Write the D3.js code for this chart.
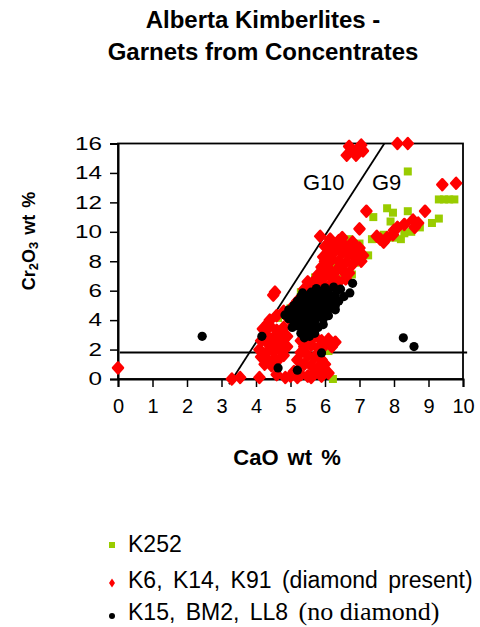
<!DOCTYPE html>
<html lang="en">
  <head>
    <meta charset="UTF-8" />
    <title>Alberta Kimberlites</title>
    <style>
      body { margin: 0; background: #fff; }
      text { font-family: Arial, "Liberation Sans", sans-serif; }
    </style>
  </head>
  <body>
    <svg id="chart" width="480" height="627"></svg>
    <script src="https://cdn.jsdelivr.net/npm/d3@7/dist/d3.min.js"></script>
    <script>
      // CaO (x), Cr2O3 (y) in wt %
      const k252 = [
        [8.4, 14.1], [9.3, 12.2], [9.45, 12.2], [9.6, 12.2], [9.75, 12.2],
        [7.8, 11.6], [7.97, 11.3], [8.4, 11.4], [7.4, 11.0], [7.9, 10.7], [9.3, 10.9], [9.1, 10.6],
        [7.36, 9.5], [8.2, 9.5], [8.3, 9.9], [8.75, 10.3], [7.0, 9.2], [7.25, 8.4], [6.7, 9.5],
        [8.0, 9.6], [7.7, 9.8], [8.5, 10.0],
        [6.67, 9.3], [6.93, 9.1], [6.06, 8.0], [6.87, 7.9], [5.71, 6.9], [6.78, 7.1], [6.5, 8.5],
        [6.3, 7.6], [6.1, 8.6], [6.95, 8.6], [6.4, 6.8], [5.5, 6.4], [5.3, 5.9], [6.6, 8.9], [6.14, 7.9],
        [4.64, 4.15], [5.57, 1.43], [5.5, 1.5], [6.23, 0.0], [5.0, 4.8], [4.9, 4.4], [6.1, 1.9]
      ];

      const diamondPresent = [
        [6.7, 15.8], [6.95, 15.6], [6.63, 15.2], [6.9, 15.2], [7.1, 15.5], [6.8, 15.5], [7.05, 15.9],
        [8.1, 16.0], [8.4, 16.0],
        [9.4, 13.2], [9.8, 13.3], [7.2, 11.4], [8.9, 11.4], [7.0, 10.2], [5.86, 9.7],
        [8.55, 10.8], [8.6, 10.3], [8.1, 10.3], [7.97, 9.8], [7.6, 9.5], [7.5, 9.7], [7.7, 9.3],
        [8.3, 10.5], [8.0, 10.1], [8.7, 10.6], [7.8, 9.6],
        [6.0, 9.0], [6.2, 9.2], [6.4, 9.4], [6.6, 9.0], [6.8, 9.3], [7.0, 8.9], [6.1, 8.5], [6.3, 8.7],
        [6.5, 8.6], [6.7, 8.5], [6.9, 8.2], [7.1, 8.4], [6.0, 8.0], [6.2, 8.1], [6.4, 8.0], [6.6, 7.9],
        [6.8, 7.8], [5.9, 7.6], [6.1, 7.5], [6.3, 7.3], [6.5, 7.4], [6.7, 7.2], [5.8, 7.1], [6.0, 7.0],
        [6.2, 6.9], [6.4, 6.6], [6.6, 6.8], [5.7, 6.7], [5.9, 6.5], [6.1, 6.3], [6.3, 8.9], [6.5, 9.6],
        [6.15, 9.5], [6.85, 8.7], [7.05, 8.0], [6.45, 7.7], [5.95, 8.3], [6.25, 6.4],
        [5.2, 5.3], [5.35, 5.6], [5.5, 5.9], [5.6, 6.2], [5.75, 6.5], [5.4, 6.1], [5.3, 5.0], [5.6, 5.5],
        [5.85, 6.0], [5.5, 6.6], [5.1, 5.0], [4.5, 5.7], [4.55, 5.9],
        [4.2, 3.4], [4.4, 3.6], [4.6, 3.3], [4.8, 3.5], [4.3, 3.0], [4.5, 2.8], [4.7, 3.0], [4.9, 2.9],
        [4.15, 2.6], [4.35, 2.4], [4.55, 2.3], [4.75, 2.5], [4.1, 2.0], [4.3, 1.8], [4.5, 1.9], [4.7, 2.0],
        [4.9, 2.2], [4.15, 1.5], [4.35, 1.3], [4.55, 1.4], [4.25, 1.0], [4.45, 0.9], [4.6, 1.2], [4.8, 1.6],
        [4.4, 4.0], [4.6, 4.3], [4.8, 4.6], [4.95, 4.1], [4.35, 3.8],
        [5.3, 2.6], [5.5, 2.8], [5.7, 2.9], [5.9, 2.6], [6.1, 2.7], [6.3, 2.5], [5.4, 2.2], [5.6, 2.3],
        [5.8, 2.1], [6.0, 2.3], [6.2, 2.2], [5.3, 1.8], [5.5, 1.6], [5.7, 1.5], [5.9, 1.3], [5.2, 1.3],
        [5.4, 1.0], [5.6, 0.9], [5.8, 0.8], [6.0, 1.0], [5.1, 0.5], [5.3, 0.3], [5.5, 0.2], [5.7, 0.4],
        [5.9, 0.2], [6.1, 0.4], [5.2, 0.1], [5.6, 0.1], [6.0, 0.6], [5.0, 0.2],
        [3.3, 0.0], [3.54, 0.1], [4.1, 0.1], [0.0, 0.75], [4.6, 0.3], [4.85, 0.1]
      ];

      const noDiamond = [
        [2.44, 2.9], [4.17, 2.9], [4.84, 4.35], [8.27, 2.8], [8.58, 2.2], [4.64, 0.75], [5.2, 0.6],
        [5.9, 1.77], [6.8, 6.5], [6.72, 5.85],
        [5.4, 2.8], [5.55, 2.9], [5.3, 3.1], [5.5, 3.2], [5.7, 3.1],
        [5.05, 3.5], [5.2, 3.6], [5.4, 3.5], [5.6, 3.6], [5.8, 3.5], [5.95, 3.7], [5.1, 3.8], [5.3, 3.9],
        [5.5, 3.85], [5.7, 3.9],
        [4.95, 4.1], [5.15, 4.2], [5.35, 4.1], [5.55, 4.2], [5.75, 4.15], [5.95, 4.1], [6.1, 4.3],
        [5.0, 4.4], [5.25, 4.45], [5.45, 4.4], [5.65, 4.45], [5.85, 4.4], [6.05, 4.5],
        [4.95, 4.7], [5.15, 4.75], [5.35, 4.7], [5.55, 4.8], [5.75, 4.7], [5.95, 4.75], [6.15, 4.8],
        [6.3, 4.7], [5.1, 5.0], [5.3, 5.05], [5.5, 5.0], [5.7, 5.1], [5.9, 5.0], [6.1, 5.1], [6.3, 5.0],
        [5.2, 5.3], [5.4, 5.35], [5.6, 5.3], [5.8, 5.4], [6.0, 5.3], [6.2, 5.4], [6.4, 5.3],
        [5.3, 5.6], [5.5, 5.65], [5.7, 5.6], [5.9, 5.7], [6.1, 5.6], [6.3, 5.65], [6.55, 5.6],
        [5.35, 5.85], [5.6, 5.9], [5.85, 5.95], [6.1, 5.9], [6.35, 6.0], [5.75, 6.15], [6.0, 6.2],
        [6.25, 6.25], [6.45, 6.1]
      ];

      // G10 / G9 divide and the 1.8 wt % Cr2O3 line
      const g10Line = [[3.22, -0.35], [7.72, 16]];
      const crLine = [[0.05, 1.8], [10.12, 1.8]];

      const xTicks = [0, 1, 2, 3, 4, 5, 6, 7, 8, 9, 10];
      const yTicks = [0, 2, 4, 6, 8, 10, 12, 14, 16];

      const svg = d3.select("#chart");
      const x = d3.scaleLinear().domain([0, 10]).range([118, 463]);
      const y = d3.scaleLinear().domain([0, 16]).range([379, 143.5]);

      // title
      svg.append("text").attr("x", 263).attr("y", 28).attr("text-anchor", "middle")
        .attr("font-size", 24).attr("font-weight", "bold")
        .text("Alberta Kimberlites -");
      svg.append("text").attr("x", 263).attr("y", 60).attr("text-anchor", "middle")
        .attr("font-size", 24).attr("font-weight", "bold")
        .text("Garnets from Concentrates");

      // plot box
      svg.append("rect").attr("x", x(0)).attr("y", y(16))
        .attr("width", x(10) - x(0)).attr("height", y(0) - y(16))
        .attr("fill", "none").attr("stroke", "#000").attr("stroke-width", 1.8);

      const xAxis = svg.append("g").attr("transform", `translate(0,${y(0)})`)
        .call(d3.axisBottom(x).tickValues(xTicks).tickSize(8).tickPadding(12));
      xAxis.selectAll("text").attr("font-size", 20).attr("font-family", null);

      const yAxis = svg.append("g").attr("transform", `translate(${x(0)},0)`)
        .call(d3.axisLeft(y).tickValues(yTicks).tickSize(8).tickPadding(8));
      yAxis.selectAll("text").attr("font-size", 18).attr("font-family", null)
        .attr("textLength", (d) => String(d).length * 13.5)
        .attr("lengthAdjust", "spacingAndGlyphs");
      svg.selectAll(".domain").attr("stroke-width", 2);
      svg.selectAll(".tick line").attr("stroke-width", 1.5);

      const line = d3.line().x((d) => x(d[0])).y((d) => y(d[1]));
      svg.append("path").datum(crLine).attr("d", line)
        .attr("stroke", "#000").attr("stroke-width", 1.8).attr("fill", "none");
      svg.append("path").datum(g10Line).attr("d", line)
        .attr("stroke", "#000").attr("stroke-width", 1.8).attr("fill", "none");

      svg.append("text").attr("x", 303).attr("y", 190).attr("font-size", 22).text("G10");
      svg.append("text").attr("x", 372).attr("y", 190).attr("font-size", 22).text("G9");

      const diamondPath = "M0,-5.5L5,0L0,5.5L-5,0Z";

      // series, in drawing order
      svg.append("g").selectAll("rect").data(k252).enter().append("rect")
        .attr("x", (d) => x(d[0]) - 4).attr("y", (d) => y(d[1]) - 4)
        .attr("width", 8).attr("height", 8).attr("fill", "#99cc00");

      svg.append("g").selectAll("path").data(diamondPresent).enter().append("path")
        .attr("d", diamondPath)
        .attr("transform", (d) => `translate(${x(d[0])},${y(d[1])})`)
        .attr("fill", "#ff0000").attr("stroke", "#ff0000").attr("stroke-width", 2.5)
        .attr("stroke-linejoin", "round");

      svg.append("g").selectAll("circle").data(noDiamond).enter().append("circle")
        .attr("cx", (d) => x(d[0])).attr("cy", (d) => y(d[1]))
        .attr("r", 4.6).attr("fill", "#000");

      // axis titles
      svg.append("text").attr("x", 287).attr("y", 465).attr("text-anchor", "middle")
        .attr("font-size", 22).attr("font-weight", "bold").attr("word-spacing", 3)
        .text("CaO wt %");

      const yTitle = svg.append("text").attr("transform", "translate(35,241) rotate(-90)")
        .attr("text-anchor", "middle").attr("font-size", 18).attr("font-weight", "bold")
        .attr("word-spacing", 2);
      yTitle.append("tspan").text("Cr");
      yTitle.append("tspan").attr("font-size", 13).attr("dy", 3).text("2");
      yTitle.append("tspan").attr("dy", -3).text("O");
      yTitle.append("tspan").attr("font-size", 13).attr("dy", 3).text("3");
      yTitle.append("tspan").attr("dy", -3).text(" wt %");

      // legend
      const legend = svg.append("g");
      legend.append("rect").attr("x", 109).attr("y", 542).attr("width", 6).attr("height", 6)
        .attr("fill", "#99cc00");
      legend.append("text").attr("x", 128).attr("y", 552).attr("font-size", 23).text("K252");

      legend.append("path").attr("d", "M0,-4.5L3,0L0,4.5L-3,0Z")
        .attr("transform", "translate(112,583)").attr("fill", "#ff0000");
      legend.append("text").attr("x", 128).attr("y", 588).attr("font-size", 23)
        .attr("word-spacing", 4).text("K6, K14, K91 (diamond present)");

      legend.append("circle").attr("cx", 112).attr("cy", 616).attr("r", 3).attr("fill", "#000");
      const l3 = legend.append("text").attr("x", 128).attr("y", 620).attr("font-size", 23)
        .attr("word-spacing", 4);
      l3.append("tspan").text("K15, BM2, LL8 ");
      l3.append("tspan").attr("font-family", "'Times New Roman', 'Liberation Serif', serif")
        .attr("font-size", 26).attr("word-spacing", 0).text("(no diamond)");
    </script>
  </body>
</html>
